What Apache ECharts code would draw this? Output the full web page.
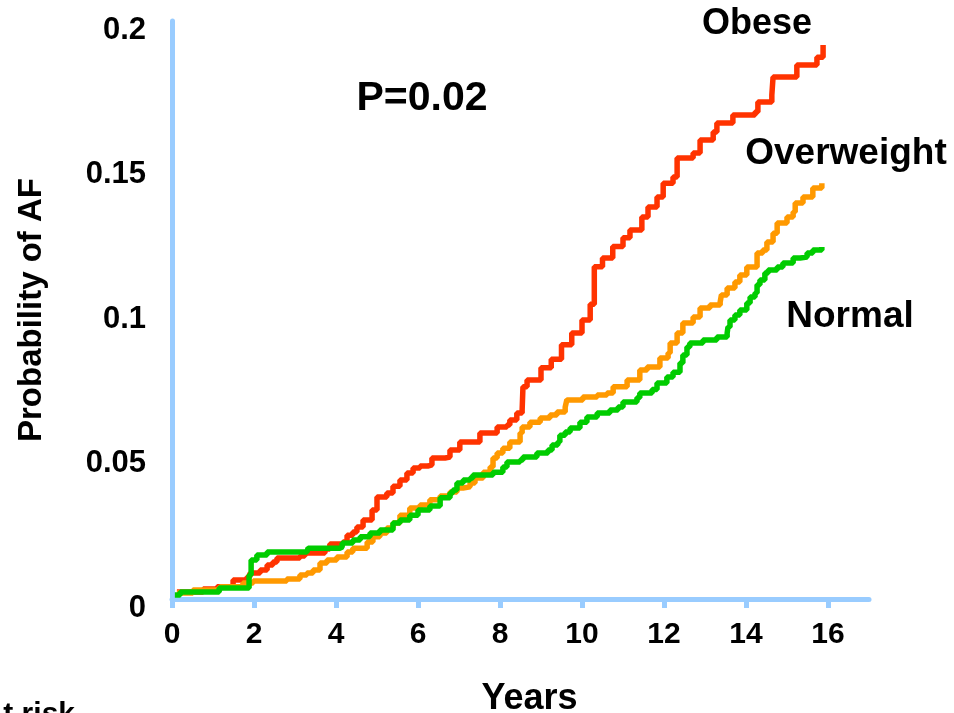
<!DOCTYPE html>
<html>
<head>
<meta charset="utf-8">
<script src="https://cdn.jsdelivr.net/npm/echarts@6/dist/echarts.min.js"></script>
<style>html,body{margin:0;padding:0;background:#fff;}#c{width:954px;height:713px;}</style>
</head>
<body>
<div id="c"></div>
<script>
// Kaplan-Meier style cumulative probability of AF, [years, probability]
var obese = [
  [0.12,0.0024],[0.76,0.0035],[1.1,0.0042],[1.49,0.0066],[1.83,0.0076],[1.9,0.009],
  [2.15,0.010],[2.32,0.0118],[2.46,0.0128],[2.56,0.0142],[3.12,0.0149],[3.24,0.0159],
  [3.73,0.0173],[3.85,0.019],[4.17,0.0197],[4.27,0.0221],[4.41,0.0232],[4.51,0.0249],
  [4.66,0.0273],[4.88,0.0308],[5.0,0.0353],[5.24,0.0367],[5.39,0.039],[5.56,0.0412],
  [5.73,0.0436],[5.88,0.0453],[6.05,0.046],[6.24,0.0464],[6.34,0.0488],[6.66,0.0491],
  [6.78,0.0516],[7.02,0.0543],[7.46,0.0543],[7.51,0.0574],[7.88,0.0574],[7.93,0.0595],
  [8.17,0.0602],[8.24,0.0619],[8.41,0.0644],[8.54,0.0654],[8.56,0.0734],[8.66,0.0758],
  [9.0,0.080],[9.25,0.083],[9.5,0.088],[9.75,0.092],[10.0,0.0965],[10.2,0.102],
  [10.3,0.115],[10.5,0.118],[10.75,0.122],[11.0,0.125],[11.17,0.1277],[11.46,0.1322],
  [11.61,0.1356],[11.83,0.1391],[11.98,0.1439],[12.22,0.146],[12.32,0.1526],[12.71,0.1543],
  [12.88,0.1588],[13.2,0.1616],[13.29,0.1647],[13.68,0.1675],[14.22,0.1685],[14.29,0.172],
  [14.63,0.1744],[14.66,0.1806],[15.24,0.1848],[15.73,0.1875],[15.88,0.1917]
];
var overweight = [
  [0.12,0.0021],[0.51,0.0031],[1.17,0.0042],[1.73,0.0055],[1.98,0.0062],[2.8,0.0069],
  [3.12,0.0083],[3.29,0.009],[3.44,0.010],[3.61,0.0125],[3.78,0.0135],[4.02,0.0145],
  [4.27,0.0163],[4.41,0.0176],[4.76,0.0197],[4.9,0.0215],[5.07,0.0228],[5.24,0.0246],
  [5.39,0.0263],[5.56,0.029],[5.8,0.0315],[6.05,0.0325],[6.29,0.0343],[6.54,0.0356],
  [6.78,0.037],[6.95,0.0384],[7.1,0.0388],[7.27,0.0401],[7.39,0.0419],[7.59,0.0439],
  [7.76,0.0457],[7.83,0.0488],[7.93,0.0505],[8.07,0.0522],[8.24,0.0543],[8.49,0.0574],
  [8.54,0.0595],[8.73,0.0612],[8.98,0.0626],[9.22,0.0637],[9.39,0.0647],[9.59,0.0664],
  [9.63,0.0689],[10.02,0.0699],[10.37,0.0706],[10.61,0.0713],[10.76,0.0734],[11.1,0.0758],
  [11.41,0.0792],[11.59,0.0803],[11.9,0.0834],[12.1,0.0851],[12.15,0.0886],[12.32,0.092],
  [12.46,0.0955],[12.71,0.0976],[12.88,0.1007],[13.12,0.1017],[13.37,0.1028],[13.4,0.1052],
  [13.54,0.1076],[13.73,0.1097],[13.85,0.1121],[14.02,0.1149],[14.27,0.1197],[14.41,0.1208],
  [14.51,0.1235],[14.66,0.1266],[14.76,0.1301],[15.0,0.1322],[15.15,0.1339],[15.2,0.137],
  [15.39,0.1391],[15.63,0.1422],[15.85,0.1439]
];
var normal = [
  [0.07,0.0014],[0.2,0.0024],[1.1,0.0024],[1.15,0.0038],[1.83,0.0038],[1.88,0.0083],
  [1.93,0.0135],[2.07,0.0152],[2.32,0.0163],[3.29,0.0163],[3.32,0.0176],[4.1,0.018],
  [4.15,0.0194],[4.41,0.0204],[4.59,0.0215],[4.83,0.0228],[5.07,0.0239],[5.39,0.0263],
  [5.56,0.0273],[5.8,0.029],[6.0,0.0308],[6.29,0.0322],[6.54,0.035],[6.78,0.0367],
  [6.85,0.0377],[6.95,0.0401],[7.1,0.0412],[7.27,0.0419],[7.34,0.0429],[7.68,0.0429],
  [7.83,0.0439],[8.07,0.0457],[8.17,0.0474],[8.49,0.0481],[8.56,0.0491],[8.9,0.0505],
  [9.17,0.0516],[9.27,0.0533],[9.41,0.0543],[9.46,0.0567],[9.59,0.0578],[9.71,0.0592],
  [9.95,0.0612],[10.12,0.063],[10.37,0.0644],[10.51,0.0644],[10.68,0.0654],[10.88,0.0664],
  [11.0,0.0682],[11.34,0.0696],[11.41,0.0713],[11.71,0.0725],[11.83,0.0747],[12.07,0.0768],
  [12.22,0.0785],[12.39,0.0817],[12.46,0.0844],[12.56,0.0872],[12.63,0.0886],[12.95,0.0896],
  [13.29,0.0907],[13.54,0.092],[13.56,0.0941],[13.61,0.0965],[13.73,0.0983],[13.85,0.100],
  [14.02,0.1024],[14.1,0.1045],[14.22,0.1059],[14.27,0.1087],[14.34,0.1104],[14.46,0.1128],
  [14.54,0.1138],[14.76,0.1149],[14.9,0.1163],[15.15,0.118],[15.32,0.1183],[15.49,0.1197],
  [15.63,0.1208],[15.85,0.1218]
];
var xTicks = [0, 2, 4, 6, 8, 10, 12, 14, 16];
var seriesNames = ['Obese', 'Overweight', 'Normal'];
var pText = 'P=0.02';

var FONT = '"Liberation Sans", Arial, sans-serif';
var AXIS_BLUE = '#99CCFF';
var chart = echarts.init(document.getElementById('c'), null, {renderer: 'canvas'});
function line(name, data, color) {
  return {
    name: name, type: 'line', data: data, step: 'end', symbol: 'none',
    lineStyle: {color: color, width: 5.5}, itemStyle: {color: color},
    animation: false, clip: false
  };
}
chart.setOption({
  backgroundColor: '#fff',
  animation: false,
  grid: {left: 172, right: 85, top: 21, bottom: 114, containLabel: false, outerBoundsMode: 'none'},
  xAxis: {
    type: 'value', min: 0, max: 17, interval: 1,
    axisLine: {show: true, lineStyle: {color: AXIS_BLUE, width: 5}},
    axisTick: {show: true, customValues: xTicks, length: 9, lineStyle: {color: AXIS_BLUE, width: 5}},
    axisLabel: {customValues: xTicks, margin: 21, color: '#000', fontSize: 30, fontWeight: 'bold', fontFamily: FONT},
    splitLine: {show: false},
    name: 'Years', nameLocation: 'middle', nameGap: 82,
    nameTextStyle: {color: '#000', fontSize: 36, fontWeight: 'bold', fontFamily: FONT, padding: [0, 0, 0, 18]}
  },
  yAxis: {
    type: 'value', min: 0, max: 0.2, interval: 0.05,
    axisLine: {show: true, lineStyle: {color: AXIS_BLUE, width: 5}},
    axisTick: {show: false},
    axisLabel: {margin: 26, color: '#000', fontSize: 31, fontWeight: 'bold', fontFamily: FONT, verticalAlign: 'top', lineHeight: 18},
    splitLine: {show: false},
    name: 'Probability of AF', nameLocation: 'middle', nameGap: 124, nameRotate: 90,
    nameTextStyle: {color: '#000', fontSize: 33, fontWeight: 'bold', fontFamily: FONT}
  },
  series: [
    line(seriesNames[0], obese, '#FF3300'),
    line(seriesNames[1], overweight, '#FF9900'),
    line(seriesNames[2], normal, '#00CC00')
  ],
  graphic: [
    {type: 'text', style: {text: seriesNames[0], x: 757, y: 24, textAlign: 'center', textVerticalAlign: 'middle', fill: '#000', font: 'bold 36px ' + FONT}},
    {type: 'text', style: {text: seriesNames[1], x: 846, y: 154, textAlign: 'center', textVerticalAlign: 'middle', fill: '#000', font: 'bold 37px ' + FONT}},
    {type: 'text', style: {text: seriesNames[2], x: 850, y: 317, textAlign: 'center', textVerticalAlign: 'middle', fill: '#000', font: 'bold 37px ' + FONT}},
    {type: 'text', style: {text: pText, x: 422, y: 99, textAlign: 'center', textVerticalAlign: 'middle', fill: '#000', font: 'bold 41px ' + FONT}},
    {type: 'text', style: {text: 'At risk', x: 75, y: 730, textAlign: 'right', textVerticalAlign: 'bottom', fill: '#000', font: 'bold 30px ' + FONT}}
  ]
});
</script>
</body>
</html>
